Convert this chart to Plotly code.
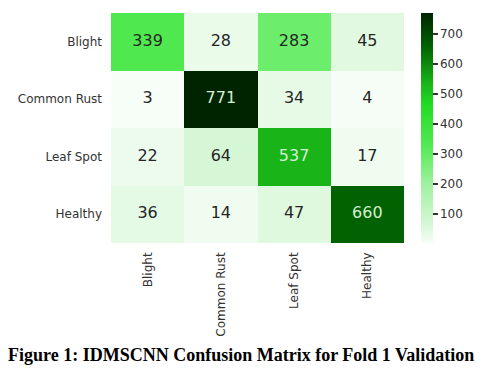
import plotly.graph_objects as go

classes = ["Blight", "Common Rust", "Leaf Spot", "Healthy"]
values = [
    [339, 28, 283, 45],
    [3, 771, 34, 4],
    [22, 64, 537, 17],
    [36, 14, 47, 660],
]
cbar_ticks = [100, 200, 300, 400, 500, 600, 700]
caption = "Figure 1: IDMSCNN Confusion Matrix for Fold 1 Validation"

flat = [v for row in values for v in row]
zmin, zmax = min(flat), max(flat)

colorscale = [
    [0.0, "#f7fdf7"],
    [0.08, "#d6f7d6"],
    [0.25, "#a2f1a2"],
    [0.365, "#6cee6c"],
    [0.44, "#4ee84e"],
    [0.6, "#22dc22"],
    [0.695, "#18b418"],
    [0.855, "#006200"],
    [1.0, "#002400"],
]

fig = go.Figure()
fig.add_trace(go.Heatmap(
    z=values, x=classes, y=classes,
    zmin=zmin, zmax=zmax,
    colorscale=colorscale,
    showscale=True,
    hoverinfo="skip",
    colorbar=dict(
        x=1.058, xanchor="left", y=0.5, yanchor="middle",
        len=1.0, lenmode="fraction", thickness=12,
        outlinewidth=0, ypad=0, xpad=0,
        tickvals=cbar_ticks,
        ticks="outside", ticklen=5, tickwidth=1.5, tickcolor="#333333",
        tickfont=dict(family="DejaVu Sans", size=12, color="#333333"),
    ),
))

tx, ty, tt, tc = [], [], [], []
thresh = (zmin + zmax) / 2 + 100
for i, row in enumerate(values):
    for j, v in enumerate(row):
        tx.append(classes[j])
        ty.append(classes[i])
        tt.append(str(v))
        tc.append("#d2efd2" if v > thresh else "#262626")

fig.add_trace(go.Scatter(
    x=tx, y=ty, text=tt, mode="text",
    textfont=dict(family="DejaVu Sans", size=16, color=tc),
    hoverinfo="skip", showlegend=False,
))

fig.update_xaxes(
    type="category", showgrid=False, zeroline=False, showline=False,
    tickangle=-90, ticks="", ticklabelstandoff=6, automargin=False,
    tickfont=dict(family="DejaVu Sans", size=12, color="#333333"),
)
fig.update_yaxes(
    type="category", autorange="reversed", showgrid=False, zeroline=False,
    showline=False, ticks="", ticklabelstandoff=8, automargin=False,
    tickfont=dict(family="DejaVu Sans", size=12, color="#333333"),
)

fig.add_annotation(
    text="<b>" + caption + "</b>", xref="paper", yref="paper",
    x=0.445, y=-0.487, xanchor="center", yanchor="middle", showarrow=False,
    font=dict(family="Liberation Serif", size=18, color="#000000"),
)

# The page body has an 8px default margin, so the figure is sized/offset to compensate.
fig.update_layout(
    width=476, height=381,
    margin=dict(l=103, r=80, t=5, b=146, autoexpand=False),
    paper_bgcolor="white", plot_bgcolor="white",
    showlegend=False,
)

fig.write_html("out.html")
